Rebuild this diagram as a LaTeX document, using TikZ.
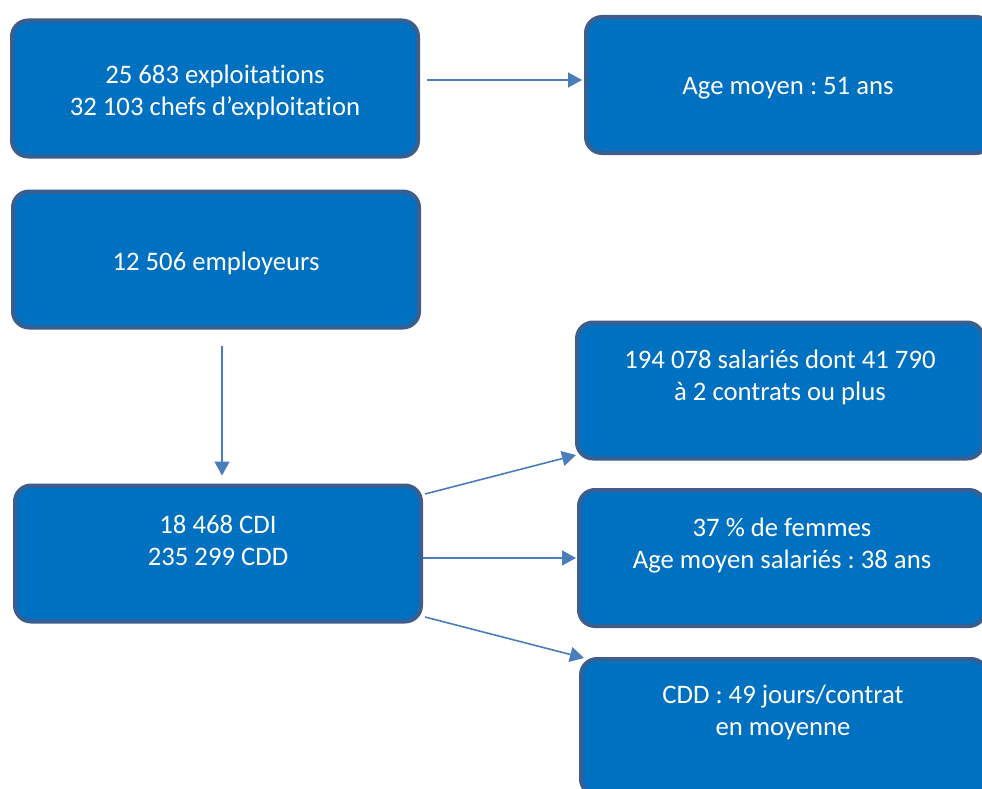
\documentclass[tikz,border=0pt]{standalone}
\usepackage{fontspec}
\setmainfont[Ligatures={NoCommon}]{Carlito}
\frenchspacing
\usetikzlibrary{arrows.meta,calc}

\definecolor{boxfill}{HTML}{0070C0}
\definecolor{boxline}{HTML}{3C5E8E}
\definecolor{arrowcol}{HTML}{4A7EBB}

\tikzset{
  infobox/.style={draw=boxline, fill=boxfill, line width=4pt,
    rounded corners=16pt, minimum width=406pt, minimum height=136pt,
    inner sep=0pt},
  infotext/.style={text=white, align=center, inner sep=0pt,
    font=\fontsize{26.7pt}{32pt}\selectfont},
  flow/.style={draw=arrowcol, line width=1.6pt,
    -{Triangle[length=14pt,width=15pt]}}
}

\begin{document}
\begin{tikzpicture}[x=1pt,y=-1pt]
  \useasboundingbox (0,0) rectangle (982,789);
  \begin{scope}
    \clip (0,0) rectangle (982,789);

    % left column
    \node[infobox] (expl) at (215,88.5) {};
    \node[infobox] (empl) at (216,259.5) {};
    \node[infobox] (contr) at (218,553.5) {};

    % right column (runs past the page edge)
    \node[infobox] (age) at (789,85) {};
    \node[infobox] (sal) at (780,390.5) {};
    \node[infobox] (fem) at (782,558) {};
    \node[infobox] (dur) at (784,727) {};

    % labels
    \node[infotext] (t-expl) at (215,92) {25 683 exploitations\\32 103 chefs d’exploitation};
    \node[infotext] (t-empl) at (216,263) {12 506 employeurs};
    \node[infotext] (t-contr) at (218,540) {18 468 CDI\\235 299 CDD};
    \node[infotext] (t-age) at (788,88) {Age moyen : 51 ans};
    \node[infotext] (t-sal) at (780,377) {194 078 salariés dont 41 790\\à 2 contrats ou plus};
    \node[infotext] (t-fem) at (782,546) {37 \% de femmes\\Age moyen salariés : 38 ans};
    \node[infotext] (t-dur) at (783,712) {CDD : 49 jours/contrat\\en moyenne};

    % connectors
    \draw[flow] ([shift={(7,-8.5)}]expl.east) -- ([shift={(-2,-5)}]age.west);
    \draw[flow] ([shift={(6,16)}]empl.south) -- ([shift={(4,-8)}]contr.north);
    \draw[flow] ([shift={(2,-59.5)}]contr.east) -- ([shift={(1,64.5)}]sal.west);
    \draw[flow] ([shift={(0,4.5)}]contr.east) -- ([shift={(-1,0)}]fem.west);
    \draw[flow] ([shift={(2,63.5)}]contr.east) -- ([shift={(5,-69)}]dur.west);
  \end{scope}
\end{tikzpicture}
\end{document}
